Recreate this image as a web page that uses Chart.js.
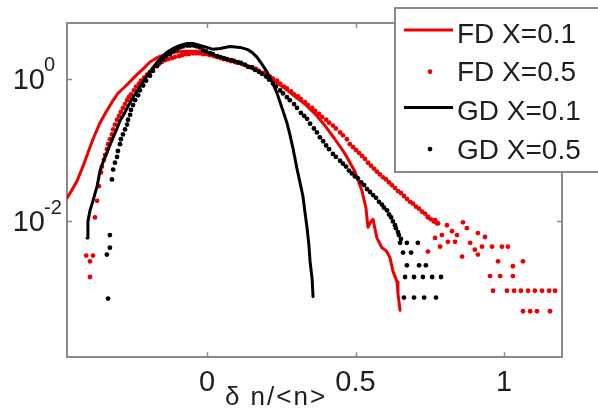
<!DOCTYPE html>
<html>
<head>
<meta charset="utf-8">
<script src="https://cdn.jsdelivr.net/npm/chart.js@4/dist/chart.umd.min.js"></script>
<style>
html,body{margin:0;padding:0;background:#fff;}
canvas{display:block;}
</style>
</head>
<body>
<canvas id="c" width="598" height="408"></canvas>
<script>
// ---- series names (legend) ----
const seriesNames = ['FD X=0.1', 'FD X=0.5', 'GD X=0.1', 'GD X=0.5'];

// ---- FD X=0.1 (red line) ----
const fd01X = [-0.471,-0.455,-0.438,-0.418,-0.401,-0.384,-0.360,-0.340,-0.320,-0.300,-0.279,-0.259,-0.236,-0.215,-0.192,-0.165,-0.138,-0.108,-0.074,-0.040,-0.007,0.027,0.061,0.094,0.128,0.162,0.195,0.229,0.263,0.296,0.330,0.364,0.397,0.431,0.465,0.498,0.522,0.535,0.542,0.552,0.559,0.572,0.589,0.603,0.616,0.626,0.640,0.643,0.650];
const fd01Y = [0.0212,0.0274,0.0364,0.0585,0.0911,0.142,0.243,0.344,0.472,0.628,0.759,0.918,1.15,1.39,1.73,2.03,2.23,2.37,2.45,2.45,2.37,2.16,1.96,1.78,1.57,1.34,1.15,0.918,0.735,0.570,0.443,0.323,0.221,0.142,0.0883,0.0499,0.0265,0.0155,0.00822,0.00993,0.0106,0.00581,0.00423,0.00385,0.00308,0.00198,0.00140,0.000955,0.000557];

// ---- FD X=0.5 (red dots) ----
const fd05X = [-0.407,-0.384,-0.394,-0.394,-0.377,-0.370,-0.364,-0.357,-0.347,-0.337,-0.327,-0.316,-0.303,-0.290,-0.276,-0.263,-0.246,-0.229,-0.212,-0.192,-0.172,-0.152,-0.131,-0.108,-0.084,-0.061,-0.037,-0.013,0.010,0.034,0.057,0.081,0.104,0.128,0.152,0.175,0.199,0.222,0.246,0.269,0.293,0.316,0.340,0.364,0.387,0.411,0.434,0.458,0.481,0.502,0.522,0.542,0.562,0.582,0.603,0.623,0.643,0.663,0.684,0.704,0.724,0.744,0.764,
  -0.354,-0.343,-0.333,-0.320,-0.310,-0.296,-0.283,-0.269,-0.256,-0.239,-0.222,-0.202,-0.182,-0.162,-0.141,-0.118,-0.094,-0.071,-0.047,-0.024,0.000,0.024,0.047,0.071,0.094,0.118,0.141,0.165,0.189,0.212,0.236,0.259,0.283,0.306,0.330,0.354,0.377,0.401,0.424,0.448,0.471,0.492,0.512,0.532,0.552,0.572,0.593,0.613,0.633,0.653,0.673,0.694,0.714,0.734,0.754,0.774,
  0.744,0.768,0.778,0.808,0.862,0.875,0.912,0.791,0.768,0.811,0.842,0.835,0.785,0.744,0.886,0.902,0.926,0.960,0.993,1.013,0.859,0.912,0.980,1.030,1.064,0.825,0.936,
  0.953,0.987,1.030,0.963,1.010,1.034,1.057,1.081,1.104,1.128,1.152,1.172,1.064,1.088,1.111,1.155];
const fd05Y = [0.00328,0.00328,0.00272,0.00164,0.0113,0.0193,0.0311,0.0484,0.0730,0.103,0.142,0.195,0.267,0.344,0.443,0.553,0.690,0.861,1.04,1.26,1.52,1.73,1.90,2.03,2.16,2.23,2.30,2.23,2.16,2.03,1.90,1.79,1.68,1.58,1.45,1.30,1.15,1.01,0.861,0.736,0.607,0.519,0.430,0.355,0.293,0.243,0.201,0.161,0.121,0.100,0.0828,0.0664,0.0550,0.0454,0.0387,0.0321,0.0265,0.0226,0.0187,0.0160,0.0136,0.0116,0.00993,
  0.0585,0.0855,0.121,0.166,0.228,0.303,0.391,0.503,0.608,0.783,0.948,1.15,1.39,1.62,1.84,1.96,2.09,2.23,2.30,2.30,2.23,2.09,1.96,1.84,1.73,1.62,1.48,1.39,1.22,1.08,0.948,0.783,0.668,0.571,0.472,0.391,0.323,0.267,0.221,0.177,0.142,0.110,0.0911,0.0753,0.0603,0.0499,0.0413,0.0352,0.0292,0.0249,0.0206,0.0176,0.0150,0.0128,0.0106,0.00933,
  0.0113,0.0103,0.00933,0.00876,0.00963,0.00796,0.00680,0.00638,0.00581,0.00512,0.00638,0.00512,0.00437,0.00373,0.00496,0.00397,0.00437,0.00437,0.00437,0.00437,0.00318,0.00339,0.00272,0.00232,0.00272,0.00724,0.00599,
  0.00169,0.00169,0.00169,0.00105,0.00105,0.00105,0.00105,0.00105,0.00105,0.00105,0.00105,0.00105,0.000540,0.000540,0.000540,0.000540];

// ---- GD X=0.1 (black line) ----
const gd01X = [-0.404,-0.401,-0.394,-0.384,-0.370,-0.360,-0.347,-0.337,-0.327,-0.316,-0.303,-0.293,-0.279,-0.269,-0.253,-0.236,-0.219,-0.202,-0.185,-0.168,-0.152,-0.135,-0.114,-0.091,-0.067,-0.047,-0.024,0.000,0.020,0.044,0.077,0.111,0.135,0.152,0.168,0.185,0.202,0.219,0.236,0.246,0.256,0.269,0.279,0.290,0.303,0.313,0.323,0.330,0.337,0.343,0.347,0.354,0.357];
const gd01Y = [0.00581,0.00993,0.01407,0.0193,0.0311,0.0515,0.0730,0.0911,0.117,0.151,0.201,0.259,0.323,0.391,0.519,0.668,0.861,1.11,1.39,1.73,2.03,2.37,2.69,2.96,3.15,3.15,2.96,2.78,2.61,2.69,2.87,2.78,2.61,2.37,2.03,1.62,1.26,0.918,0.627,0.471,0.354,0.242,0.166,0.103,0.0547,0.0352,0.0224,0.0132,0.00796,0.00465,0.00271,0.00153,0.000868];

// ---- GD X=0.5 (black dots) ----
const gd05X = [-0.333,-0.337,-0.327,-0.327,-0.320,-0.316,-0.303,-0.293,-0.283,-0.269,-0.259,-0.249,-0.232,-0.215,-0.192,-0.168,-0.148,-0.125,-0.101,-0.081,-0.057,-0.034,
  -0.013,0.010,0.034,0.057,0.081,0.104,0.128,0.152,0.175,0.199,0.222,0.246,0.269,0.293,0.316,0.337,0.360,0.380,0.401,0.424,0.448,0.468,0.488,0.508,0.529,0.549,0.569,0.589,0.606,0.620,0.633,0.643,0.653,
  0.650,0.673,0.710,0.660,0.687,0.673,0.714,0.737,0.667,0.697,0.727,0.758,0.788,0.663,0.697,0.731,0.771,
  0.391,0.411,0.434,0.458,0.478,0.498,0.519,0.539,0.559,0.579,0.596,0.613,0.626,0.636,0.646,
  -0.310,-0.300,-0.290,-0.276,-0.266,-0.256,-0.242,-0.226,-0.205,-0.182,-0.158,-0.138,-0.114,-0.091,-0.067,-0.044,-0.024,-0.003,0.020,0.044,0.067,0.091,0.114,0.138,0.162,0.185,0.209,0.232,0.256,0.279,0.303,0.327,0.347,0.370];
const gd05Y = [0.000815,0.00339,0.00423,0.00638,0.0387,0.0532,0.0802,0.121,0.166,0.228,0.313,0.430,0.589,0.809,1.11,1.52,1.90,2.23,2.61,2.87,2.96,2.87,
  2.53,2.30,2.09,1.96,1.84,1.73,1.58,1.45,1.26,1.08,0.861,0.690,0.555,0.443,0.333,0.275,0.201,0.151,0.116,0.0883,0.0707,0.0585,0.0469,0.0400,0.0322,0.0257,0.0213,0.0171,0.0142,0.0113,0.00876,0.00702,0.00563,
  0.00496,0.00496,0.00496,0.00361,0.00361,0.00239,0.00239,0.00239,0.00164,0.00164,0.00164,0.00164,0.00164,0.000842,0.000842,0.000842,0.000842,
  0.133,0.103,0.0802,0.0643,0.0515,0.0426,0.0352,0.0282,0.0233,0.0187,0.0155,0.0124,0.00993,0.00796,0.00638,
  0.0664,0.0971,0.142,0.195,0.267,0.367,0.503,0.690,0.946,1.30,1.73,2.09,2.45,2.78,2.96,2.96,2.78,2.45,2.23,2.03,1.90,1.79,1.68,1.48,1.34,1.18,0.978,0.783,0.627,0.503,0.391,0.303,0.235,0.177];

// ---- axes ----
const xTickValues = [0, 0.5, 1];
const xTickLabels = ['0', '0.5', '1'];
const yTickValues = [1e-2, 1e0];
const yTickExponents = ['-2', '0'];
const xAxisTitle = 'δ n/<n>';
const xMin = -0.4714, xMax = 1.1953;
const yMin = 1.22e-4, yMax = 6.13;

const RED = 'rgb(238,0,0)';
const BLACK = '#000000';
const AXIS = '#8a8a8a';
const TEXT = '#1e1e1e';
const FONT = "'Liberation Sans', Arial, Helvetica, sans-serif";

const pts = (xs, ys) => xs.map((x, i) => ({x: x, y: ys[i]}));

const overlay = {
  id: 'overlay',
  afterDraw(chart) {
    const ctx = chart.ctx;
    const ca = chart.chartArea;
    const xs = chart.scales.x, ys = chart.scales.y;
    ctx.save();
    // inward tick marks
    ctx.strokeStyle = AXIS; ctx.lineWidth = 1.5;
    xTickValues.forEach(v => {
      const px = Math.round(xs.getPixelForValue(v)) + 0.5;
      ctx.beginPath();
      ctx.moveTo(px, ca.bottom); ctx.lineTo(px, ca.bottom - 5);
      ctx.moveTo(px, ca.top); ctx.lineTo(px, ca.top + 5);
      ctx.stroke();
    });
    yTickValues.forEach(v => {
      const py = Math.round(ys.getPixelForValue(v)) + 0.5;
      ctx.beginPath();
      ctx.moveTo(ca.left, py); ctx.lineTo(ca.left + 5, py);
      ctx.moveTo(ca.right, py); ctx.lineTo(ca.right - 5, py);
      ctx.stroke();
    });
    // y tick labels 10^k
    ctx.fillStyle = TEXT;
    yTickValues.forEach((v, i) => {
      const py = ys.getPixelForValue(v);
      ctx.font = '29px ' + FONT;
      ctx.textAlign = 'right'; ctx.textBaseline = 'middle';
      ctx.fillText('10', 45, py + 2);
      ctx.font = '20px ' + FONT;
      ctx.textAlign = 'left';
      ctx.fillText(yTickExponents[i], 44, py - 13);
    });
    // x axis title
    ctx.font = '26px ' + FONT;
    ctx.textAlign = 'center'; ctx.textBaseline = 'alphabetic';
    try { ctx.letterSpacing = '2px'; } catch (e) {}
    ctx.fillText(xAxisTitle, 276, 405);
    try { ctx.letterSpacing = '0px'; } catch (e) {}
    // legend
    const lx = 395, ly = 8, lw = 215, lh = 164;
    ctx.fillStyle = '#ffffff';
    ctx.fillRect(lx, ly, lw, lh);
    ctx.strokeStyle = AXIS; ctx.lineWidth = 2;
    ctx.strokeRect(lx, ly, lw, lh);
    chart.data.datasets.forEach((ds, i) => {
      const cy = 34 + i * 38.7;
      if (ds.showLine) {
        ctx.strokeStyle = ds.borderColor; ctx.lineWidth = 3;
        ctx.beginPath(); ctx.moveTo(404, cy - 4); ctx.lineTo(453, cy - 4); ctx.stroke();
      } else {
        ctx.fillStyle = ds.backgroundColor;
        ctx.beginPath(); ctx.arc(430, cy - 1, 2.4, 0, Math.PI * 2); ctx.fill();
      }
      ctx.fillStyle = TEXT;
      ctx.font = '28px ' + FONT;
      ctx.textAlign = 'left'; ctx.textBaseline = 'middle';
      ctx.fillText(ds.label, 457, cy + 1);
    });
    ctx.restore();
  }
};

const noGrid = {display: false, drawTicks: false};
const border = {display: true, color: AXIS, width: 2};

new Chart(document.getElementById('c'), {
  type: 'scatter',
  data: {
    datasets: [
      {label: seriesNames[0], data: pts(fd01X, fd01Y), showLine: true, borderColor: RED, backgroundColor: RED, borderWidth: 3, pointRadius: 0, borderJoinStyle: 'round', borderCapStyle: 'round', order: 4},
      {label: seriesNames[1], data: pts(fd05X, fd05Y), showLine: false, borderColor: RED, backgroundColor: RED, borderWidth: 0, pointRadius: 2.4, order: 3},
      {label: seriesNames[2], data: pts(gd01X, gd01Y), showLine: true, borderColor: BLACK, backgroundColor: BLACK, borderWidth: 3, pointRadius: 0, borderJoinStyle: 'round', borderCapStyle: 'round', order: 2},
      {label: seriesNames[3], data: pts(gd05X, gd05Y), showLine: false, borderColor: BLACK, backgroundColor: BLACK, borderWidth: 0, pointRadius: 2.4, order: 1}
    ]
  },
  options: {
    responsive: false,
    animation: false,
    devicePixelRatio: 1,
    layout: {padding: {left: 67, top: 23, right: 36, bottom: 0}},
    plugins: {legend: {display: false}, tooltip: {enabled: false}},
    scales: {
      x: {
        type: 'linear', position: 'bottom', min: xMin, max: xMax,
        afterBuildTicks: s => { s.ticks = xTickValues.map(v => ({value: v})); },
        ticks: {padding: 8, color: TEXT, font: {family: FONT, size: 29}, maxRotation: 0,
                callback: (v, i) => xTickLabels[i]},
        grid: noGrid, border: border
      },
      y: {
        type: 'logarithmic', position: 'left', min: yMin, max: yMax,
        afterBuildTicks: s => { s.ticks = yTickValues.map(v => ({value: v})); },
        ticks: {display: false},
        grid: noGrid, border: border
      },
      x2: {
        type: 'linear', position: 'top', min: xMin, max: xMax,
        ticks: {display: false}, grid: noGrid, border: border
      },
      y2: {
        type: 'logarithmic', position: 'right', min: yMin, max: yMax,
        ticks: {display: false}, grid: noGrid, border: border
      }
    }
  },
  plugins: [overlay]
});
</script>
</body>
</html>
